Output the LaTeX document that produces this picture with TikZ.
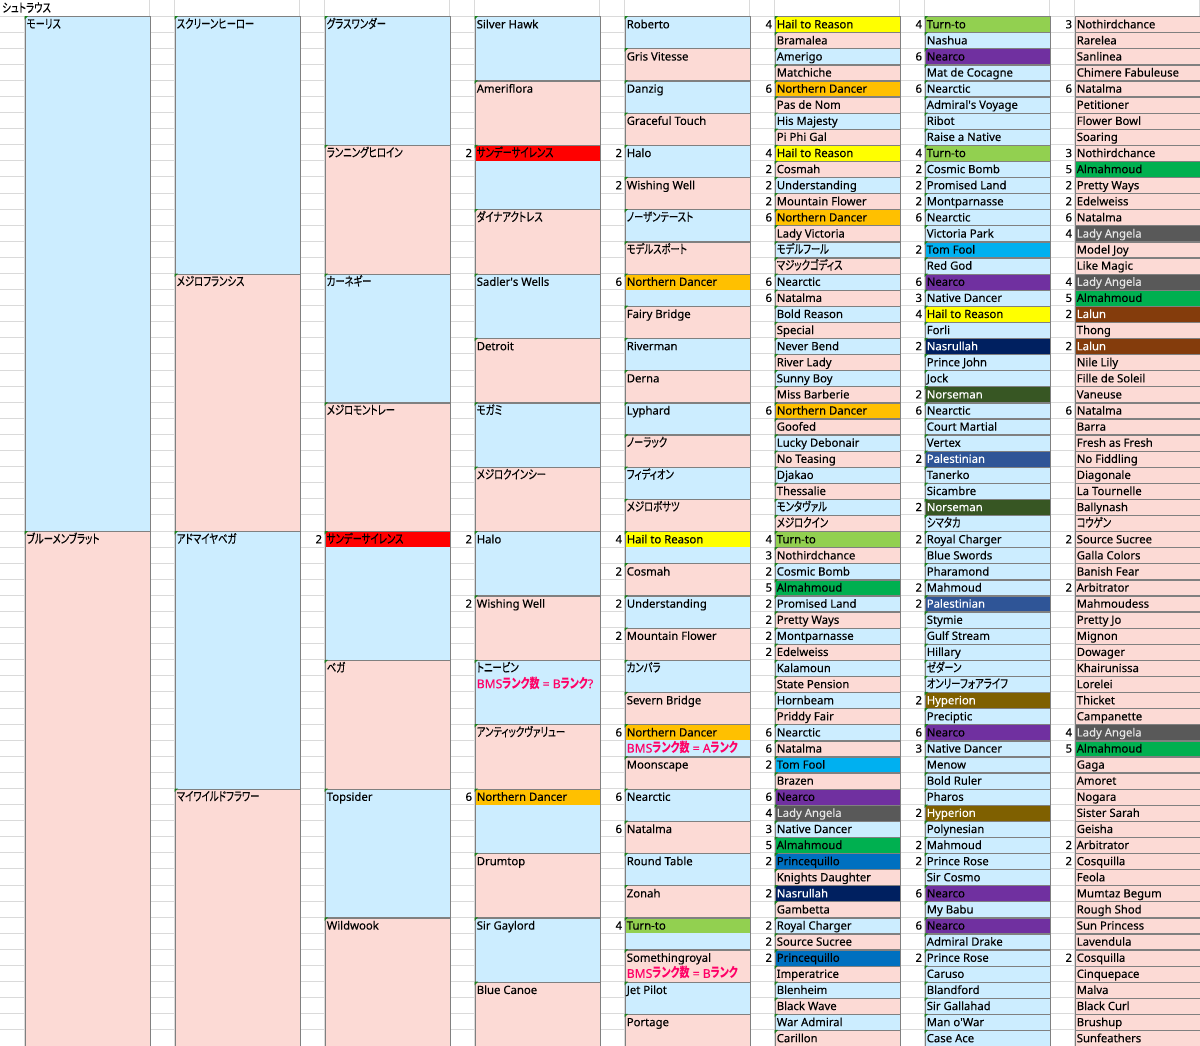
\documentclass[tikz,border=0pt]{standalone}
\usepackage{fontspec}
\setmainfont{Noto Sans}[UprightFeatures={FakeBold=0.2}]
\newfontfamily\jpfont{Noto Sans CJK JP}[RawFeature=+palt,FakeStretch=0.75,Scale=1.1,UprightFeatures={FakeBold=0.2}]
\newcommand\jp[1]{{\jpfont #1}}
\newcommand\qs{\textquotesingle}
\definecolor{cBl}{HTML}{CCEDFF}
\definecolor{cPk}{HTML}{FCDAD5}
\definecolor{cBorder}{HTML}{808080}
\definecolor{cGrid}{HTML}{DADADA}
\definecolor{cMark}{HTML}{1A7F1A}
\definecolor{cBMS}{HTML}{FF0066}
\definecolor{cHR}{HTML}{FFFF00}
\definecolor{cTT}{HTML}{92D050}
\definecolor{cNC}{HTML}{7030A0}
\definecolor{cND}{HTML}{FFC000}
\definecolor{cAM}{HTML}{00B050}
\definecolor{cLA}{HTML}{595959}
\definecolor{cSS}{HTML}{FF0000}
\definecolor{cTF}{HTML}{00B0F0}
\definecolor{cLL}{HTML}{843C0C}
\definecolor{cNS}{HTML}{002060}
\definecolor{cNO}{HTML}{375623}
\definecolor{cPA}{HTML}{2F5597}
\definecolor{cHY}{HTML}{7F6000}
\definecolor{cPQ}{HTML}{0070C0}
\tikzset{
  sBl/.style={fill=cBl,text=black},
  sPk/.style={fill=cPk,text=black},
  sHR/.style={fill=cHR,text=black},
  sTT/.style={fill=cTT,text=black},
  sNC/.style={fill=cNC,text=black},
  sND/.style={fill=cND,text=black},
  sAM/.style={fill=cAM,text=black},
  sLA/.style={fill=cLA,text=white!90!black},
  sSS/.style={fill=cSS,text=black},
  sTF/.style={fill=cTF,text=black},
  sLL/.style={fill=cLL,text=white},
  sNS/.style={fill=cNS,text=white},
  sNO/.style={fill=cNO,text=white},
  sPA/.style={fill=cPA,text=white},
  sHY/.style={fill=cHY,text=white},
  sPQ/.style={fill=cPQ,text=black},
  cellframe/.style={draw=cBorder,line width=0.95pt,inner sep=0pt,minimum width=93.75pt,anchor=north west,shape=rectangle},
  txt/.style={inner sep=0pt,anchor=base west,font=\fontsize{8.5pt}{10pt}\selectfont},
  gridln/.style={draw=cGrid,line width=0.75pt},
  bms/.style={txt,text=cBMS,font=\fontsize{9.1pt}{10pt}\selectfont\bfseries},
}
% #1 name #2 column #3 first row #4 rows #5 base style #6 first-row style #7 number #8 text
\newcommand\Cell[8]{%
  \pgfmathsetmacro\cx{24.5+150*#2}%
  \pgfmathsetmacro\cy{16+(#3-1)*16.094}%
  \pgfmathsetmacro\ch{#4*16.094}%
  \fill[#5] (\cx,\cy) rectangle ++(125,\ch);
  \fill[#6] (\cx,\cy) rectangle ++(125,16.094);
  \node[cellframe,minimum height=\ch*0.75pt] (#1) at (\cx,\cy) {};
  \ifnum#2<7 \fill[cMark] (\cx,\cy) -- ++(3.6,0) -- ++(-3.6,3.6) -- cycle;\fi
  \node[txt,#6,fill=none] (#1t) at (\cx+2,\cy+12.3) {#8};
  \ifnum#7>0 \node[txt,anchor=base east] (#1n) at (\cx-2.2,\cy+12.3) {#7};\fi
}
\newcommand\PedCol[4]{%
  \foreach \vN/\vS/\vT [count=\vK] in {#4}{%
    \pgfmathtruncatemacro\vR{1+(\vK-1)*#3}%
    \ifodd\vK\relax\def\vB{sBl}\else\def\vB{sPk}\fi
    \Cell{#1\vK}{#2}{\vR}{#3}{\vB}{\vS}{\vN}{\vT}%
  }}
\begin{document}
\begin{tikzpicture}[x=0.75pt,y=-0.75pt]
\useasboundingbox (0,0) rectangle (1200,1046);
\fill[white] (0,0) rectangle (1200,1046);
% spreadsheet grid
\foreach \k in {0,...,64} \draw[gridln] (0,{16+\k*16.094}) -- (1200,{16+\k*16.094});
\draw[gridln] (24.5,16) -- (24.5,1046);
\foreach \gx in {149.5,174.5,299.5,324.5,449.5,474.5,599.5,624.5,749.5,774.5,899.5,924.5,1049.5,1074.5,1199.5}
  \draw[gridln] (\gx,0) -- (\gx,1046);
\node[txt] (title) at (2,12.3) {\jp{シュトラウス}};
% generation 1
\PedCol{A}{0}{32}{0/sBl/\jp{モーリス},0/sPk/\jp{ブルーメンブラット}}
% generation 2
\PedCol{B}{1}{16}{0/sBl/\jp{スクリーンヒーロー},0/sPk/\jp{メジロフランシス},0/sBl/\jp{アドマイヤベガ},0/sPk/\jp{マイワイルドフラワー}}
% generation 3
\PedCol{C}{2}{8}{0/sBl/\jp{グラスワンダー},0/sPk/\jp{ランニングヒロイン},0/sBl/\jp{カーネギー},0/sPk/\jp{メジロモントレー},
  2/sSS/\jp{サンデーサイレンス},0/sPk/\jp{ベガ},0/sBl/Topsider,0/sPk/Wildwook}
% generation 4
\PedCol{D}{3}{4}{0/sBl/Silver Hawk,0/sPk/Ameriflora,2/sSS/\jp{サンデーサイレンス},0/sPk/\jp{ダイナアクトレス},
  0/sBl/Sadler\qs s Wells,0/sPk/Detroit,0/sBl/\jp{モガミ},0/sPk/\jp{メジロクインシー},
  2/sBl/Halo,2/sPk/Wishing Well,0/sBl/\jp{トニービン},0/sPk/\jp{アンティックヴァリュー},
  6/sND/Northern Dancer,0/sPk/Drumtop,0/sBl/Sir Gaylord,0/sPk/Blue Canoe}
% generation 5
\PedCol{E}{4}{2}{0/sBl/Roberto,0/sPk/Gris Vitesse,0/sBl/Danzig,0/sPk/Graceful Touch,
  2/sBl/Halo,2/sPk/Wishing Well,0/sBl/\jp{ノーザンテースト},0/sPk/\jp{モデルスポート},
  6/sND/Northern Dancer,0/sPk/Fairy Bridge,0/sBl/Riverman,0/sPk/Derna,
  0/sBl/Lyphard,0/sPk/\jp{ノーラック},0/sBl/\jp{フィディオン},0/sPk/\jp{メジロボサツ},
  4/sHR/Hail to Reason,2/sPk/Cosmah,2/sBl/Understanding,2/sPk/Mountain Flower,
  0/sBl/\jp{カンパラ},0/sPk/Severn Bridge,6/sND/Northern Dancer,0/sPk/Moonscape,
  6/sBl/Nearctic,6/sPk/Natalma,0/sBl/Round Table,0/sPk/Zonah,
  4/sTT/Turn-to,0/sPk/Somethingroyal,0/sBl/Jet Pilot,0/sPk/Portage}
% generation 6
\PedCol{F}{5}{1}{4/sHR/Hail to Reason,0/sPk/Bramalea,0/sBl/Amerigo,0/sPk/Matchiche,6/sND/Northern Dancer,0/sPk/Pas de Nom,0/sBl/His Majesty,0/sPk/Pi Phi Gal,
  4/sHR/Hail to Reason,2/sPk/Cosmah,2/sBl/Understanding,2/sPk/Mountain Flower,6/sND/Northern Dancer,0/sPk/Lady Victoria,0/sBl/\jp{モデルフール},0/sPk/\jp{マジックゴディス},
  6/sBl/Nearctic,6/sPk/Natalma,0/sBl/Bold Reason,0/sPk/Special,0/sBl/Never Bend,0/sPk/River Lady,0/sBl/Sunny Boy,0/sPk/Miss Barberie,
  6/sND/Northern Dancer,0/sPk/Goofed,0/sBl/Lucky Debonair,0/sPk/No Teasing,0/sBl/Djakao,0/sPk/Thessalie,0/sBl/\jp{モンタヴァル},0/sPk/\jp{メジロクイン},
  4/sTT/Turn-to,3/sPk/Nothirdchance,2/sBl/Cosmic Bomb,5/sAM/Almahmoud,2/sBl/Promised Land,2/sPk/Pretty Ways,2/sBl/Montparnasse,2/sPk/Edelweiss,
  0/sBl/Kalamoun,0/sPk/State Pension,0/sBl/Hornbeam,0/sPk/Priddy Fair,6/sBl/Nearctic,6/sPk/Natalma,2/sTF/Tom Fool,0/sPk/Brazen,
  6/sNC/Nearco,4/sLA/Lady Angela,3/sBl/Native Dancer,5/sAM/Almahmoud,2/sPQ/Princequillo,0/sPk/Knights Daughter,2/sNS/Nasrullah,0/sPk/Gambetta,
  2/sBl/Royal Charger,2/sPk/Source Sucree,2/sPQ/Princequillo,0/sPk/Imperatrice,0/sBl/Blenheim,0/sPk/Black Wave,0/sBl/War Admiral,0/sPk/Carillon}
% sires of generation 6
\PedCol{G}{6}{1}{4/sTT/Turn-to,0/sBl/Nashua,6/sNC/Nearco,0/sBl/Mat de Cocagne,6/sBl/Nearctic,0/sBl/Admiral\qs s Voyage,0/sBl/Ribot,0/sBl/Raise a Native,
  4/sTT/Turn-to,2/sBl/Cosmic Bomb,2/sBl/Promised Land,2/sBl/Montparnasse,6/sBl/Nearctic,0/sBl/Victoria Park,2/sTF/Tom Fool,0/sBl/Red God,
  6/sNC/Nearco,3/sBl/Native Dancer,4/sHR/Hail to Reason,0/sBl/Forli,2/sNS/Nasrullah,0/sBl/Prince John,0/sBl/Jock,2/sNO/Norseman,
  6/sBl/Nearctic,0/sBl/Court Martial,0/sBl/Vertex,2/sPA/Palestinian,0/sBl/Tanerko,0/sBl/Sicambre,2/sNO/Norseman,0/sBl/\jp{シマタカ},
  2/sBl/Royal Charger,0/sBl/Blue Swords,0/sBl/Pharamond,2/sBl/Mahmoud,2/sPA/Palestinian,0/sBl/Stymie,0/sBl/Gulf Stream,0/sBl/Hillary,
  0/sBl/\jp{ゼダーン},0/sBl/\jp{オンリーフォアライフ},2/sHY/Hyperion,0/sBl/Preciptic,6/sNC/Nearco,3/sBl/Native Dancer,0/sBl/Menow,0/sBl/Bold Ruler,
  0/sBl/Pharos,2/sHY/Hyperion,0/sBl/Polynesian,2/sBl/Mahmoud,2/sBl/Prince Rose,0/sBl/Sir Cosmo,6/sNC/Nearco,0/sBl/My Babu,
  6/sNC/Nearco,0/sBl/Admiral Drake,2/sBl/Prince Rose,0/sBl/Caruso,0/sBl/Blandford,0/sBl/Sir Gallahad,0/sBl/Man o\qs War,0/sBl/Case Ace}
% dams of generation 6
\PedCol{H}{7}{1}{3/sPk/Nothirdchance,0/sPk/Rarelea,0/sPk/Sanlinea,0/sPk/Chimere Fabuleuse,6/sPk/Natalma,0/sPk/Petitioner,0/sPk/Flower Bowl,0/sPk/Soaring,
  3/sPk/Nothirdchance,5/sAM/Almahmoud,2/sPk/Pretty Ways,2/sPk/Edelweiss,6/sPk/Natalma,4/sLA/Lady Angela,0/sPk/Model Joy,0/sPk/Like Magic,
  4/sLA/Lady Angela,5/sAM/Almahmoud,2/sLL/Lalun,0/sPk/Thong,2/sLL/Lalun,0/sPk/Nile Lily,0/sPk/Fille de Soleil,0/sPk/Vaneuse,
  6/sPk/Natalma,0/sPk/Barra,0/sPk/Fresh as Fresh,0/sPk/No Fiddling,0/sPk/Diagonale,0/sPk/La Tournelle,0/sPk/Ballynash,0/sPk/\jp{コウゲン},
  2/sPk/Source Sucree,0/sPk/Galla Colors,0/sPk/Banish Fear,2/sPk/Arbitrator,0/sPk/Mahmoudess,0/sPk/Pretty Jo,0/sPk/Mignon,0/sPk/Dowager,
  0/sPk/Khairunissa,0/sPk/Lorelei,0/sPk/Thicket,0/sPk/Campanette,4/sLA/Lady Angela,5/sAM/Almahmoud,0/sPk/Gaga,0/sPk/Amoret,
  0/sPk/Nogara,0/sPk/Sister Sarah,0/sPk/Geisha,2/sPk/Arbitrator,2/sPk/Cosquilla,0/sPk/Feola,0/sPk/Mumtaz Begum,0/sPk/Rough Shod,
  0/sPk/Sun Princess,0/sPk/Lavendula,2/sPk/Cosquilla,0/sPk/Cinquepace,0/sPk/Malva,0/sPk/Black Curl,0/sPk/Brushup,0/sPk/Sunfeathers}
% BMS notes
\node[bms] (bmsD) at ([shift={(2,28.4)}]D11.north west) {BMS\jp{ランク数} = B\jp{ランク}?};
\node[bms] (bmsE1) at ([shift={(2,28.4)}]E23.north west) {BMS\jp{ランク数} = A\jp{ランク}};
\node[bms] (bmsE2) at ([shift={(2,28.4)}]E30.north west) {BMS\jp{ランク数} = B\jp{ランク}};
\end{tikzpicture}
\end{document}
